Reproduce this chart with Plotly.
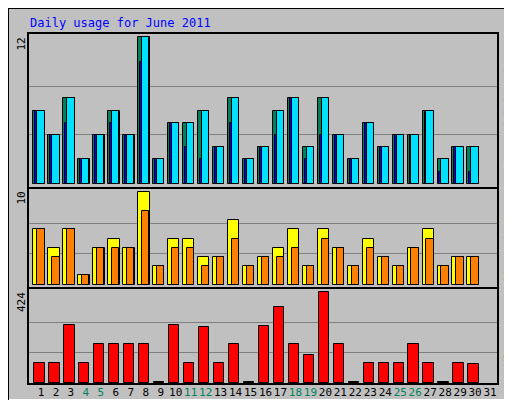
import plotly.graph_objects as go

days = list(range(1, 32))
hits = [6, 4, 7, 2, 4, 6, 4, 12, 2, 5, 5, 6, 3, 7, 2, 3, 6, 7, 3, 7, 4, 2, 5, 3, 4, 4, 6, 2, 3, 3, None]
files = [6, 4, 5, 2, 4, 5, 4, 10, 2, 5, 3, 2, 3, 5, 2, 3, 4, 7, 2, 4, 4, 2, 5, 3, 4, 4, 6, 1, 3, 1, None]
pages = [6, 4, 7, 2, 4, 6, 4, 12, 2, 5, 5, 6, 3, 7, 2, 3, 6, 7, 3, 7, 4, 2, 5, 3, 4, 4, 6, 2, 3, 3, None]
visits = [6, 4, 6, 1, 4, 5, 4, 10, 2, 5, 5, 3, 3, 7, 2, 3, 4, 6, 2, 6, 4, 2, 5, 3, 2, 4, 6, 2, 3, 3, None]
sites = [6, 3, 6, 1, 4, 4, 4, 8, 2, 4, 4, 2, 3, 5, 2, 3, 3, 4, 2, 5, 4, 2, 4, 3, 2, 4, 5, 2, 3, 3, None]
kbytes = [94, 94, 271, 94, 183, 183, 183, 183, 4, 271, 94, 262, 94, 183, 4, 266, 354, 183, 132, 424,
          183, 4, 94, 94, 94, 183, 94, 4, 94, 90, None]
weekends = [4, 5, 11, 12, 18, 19, 25, 26]

BG = "#C0C0C0"
line = dict(color="black", width=1)
fig = go.Figure()

def bar(y, color, off, w, xa, ya):
    fig.add_trace(go.Bar(x=days, y=y, offset=off, width=w, marker=dict(color=color, line=line),
                         xaxis=xa, yaxis=ya, showlegend=False))

bar(hits, "#00805C", -0.51, 0.76, "x", "y")
bar(pages, "#00E0FF", -0.25, 0.49, "x", "y")
bar(files, "#0000FF", -0.38, 0.13, "x", "y")
bar(visits, "#FFFF00", -0.51, 0.76, "x2", "y2")
bar(sites, "#FF8000", -0.25, 0.49, "x2", "y2")
bar(kbytes, "#FF0000", -0.45, 0.69, "x3", "y3")

xr = [0.133, 31.53]
xd = [20 / 512, 490 / 512]
ticktext = [f'<span style="color:#00805C">{d}</span>' if d in weekends else str(d) for d in days]
common_x = dict(range=xr, domain=xd, showgrid=False, zeroline=False, fixedrange=True)
common_y = dict(showticklabels=False, ticks="", zeroline=False, gridcolor="#808080", gridwidth=1)

fig.update_layout(
    width=512, height=400, margin=dict(l=0, r=0, t=0, b=0),
    paper_bgcolor=BG, plot_bgcolor=BG, barmode="overlay",
    font=dict(family="DejaVu Sans Mono", size=11, color="black"),
    xaxis=dict(common_x, anchor="y", showticklabels=False),
    xaxis2=dict(common_x, anchor="y2", showticklabels=False),
    xaxis3=dict(common_x, anchor="y3", tickvals=days, ticktext=ticktext, ticks="", tickangle=0,
                tickfont=dict(size=11, family="DejaVu Sans Mono")),
    yaxis=dict(common_y, domain=[0.55, 0.9375], range=[-0.33, 12.33], tickvals=[4, 8]),
    yaxis2=dict(common_y, domain=[0.30, 0.55], range=[-0.36, 10.47], tickvals=[10 / 3, 20 / 3]),
    yaxis3=dict(common_y, domain=[0.06, 0.30], range=[-4.6, 444], tickvals=[424 / 3, 848 / 3]),
    bargap=0,
)

# frames
shapes = [
    dict(type="rect", xref="paper", yref="paper", x0=0.004, y0=0.0075, x1=1, y1=1,
         line=dict(color="#808080", width=0), fillcolor="#808080", layer="below"),
    dict(type="rect", xref="paper", yref="paper", x0=0, y0=0.02, x1=0.984, y1=1,
         line=dict(color="white", width=2), fillcolor=BG, layer="below"),
    dict(type="rect", xref="paper", yref="paper", x0=0, y0=0, x1=1, y1=1,
         line=dict(color="black", width=2), fillcolor="rgba(0,0,0,0)"),
]
for y0, y1 in [(0.55, 0.9375), (0.30, 0.55), (0.06, 0.30)]:
    shapes.append(dict(type="rect", xref="paper", yref="paper", x0=xd[0], x1=xd[1], y0=y0, y1=y1,
                       line=dict(color="black", width=2)))
fig.update_layout(shapes=shapes)

ann = [
    dict(text="Daily usage for June 2011", x=20 / 512, y=385 / 400, xanchor="left", yanchor="middle",
         font=dict(color="#0000FF", size=12, family="DejaVu Sans Mono")),
    dict(text="12", x=13 / 512, y=0.93, textangle=-90, xanchor="center", yanchor="top"),
    dict(text="10", x=13 / 512, y=0.545, textangle=-90, xanchor="center", yanchor="top"),
    dict(text="424", x=13 / 512, y=0.295, textangle=-90, xanchor="center", yanchor="top"),
    dict(text='<span style="color:#00E0FF">Pages</span> / <span style="color:#0000FF">Files</span> / '
              '<span style="color:#00805C">Hits</span>', x=500 / 512, y=0.935, textangle=-90,
         xanchor="center", yanchor="top"),
    dict(text='<span style="color:#FF8000">Sites</span> / <span style="color:#FFFF00">Visits</span>',
         x=500 / 512, y=0.55, textangle=-90, xanchor="center", yanchor="top"),
    dict(text='<span style="color:#FF0000">KBytes</span>', x=500 / 512, y=0.21, textangle=-90,
         xanchor="center", yanchor="top"),
]
for a in ann:
    a.setdefault("font", dict(size=11, family="DejaVu Sans Mono"))
    a.update(xref="paper", yref="paper", showarrow=False)
fig.update_layout(annotations=ann)

fig.write_html("out.html")
